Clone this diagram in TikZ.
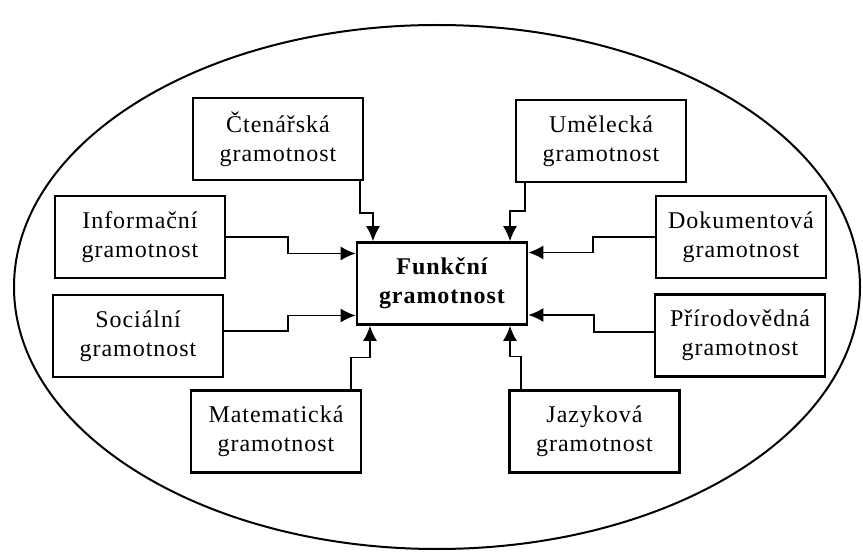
\documentclass[tikz,border=0pt]{standalone}
\usepackage{fontspec}
\setmainfont{Liberation Serif}[LetterSpace=4]
\usetikzlibrary{arrows.meta}

\tikzset{
  gbox/.style={draw, line width=2.2pt, minimum width=170pt, minimum height=82pt,
    align=center, inner sep=2pt, font=\fontsize{24}{29}\selectfont},
  centrebox/.style={gbox, line width=2.6pt, font=\fontsize{24}{29}\selectfont\bfseries},
  conn/.style={line width=1.7pt, -{Latex[length=15pt,width=14pt]}}
}

\begin{document}
\begin{tikzpicture}[x=1pt,y=-1pt]
\useasboundingbox (0,0) rectangle (863,556);
\draw[line width=2pt] (437,287) ellipse [x radius=423, y radius=262];

\node[centrebox] (funk) at (442,283.5) {Funkční\\gramotnost};

\node[gbox] (cten) at (278,139) {Čtenářská\\gramotnost};
\node[gbox] (umel) at (601,141) {Umělecká\\gramotnost};
\node[gbox] (info) at (140,237) {Informační\\gramotnost};
\node[gbox] (soc) at (138,336) {Sociální\\gramotnost};
\node[gbox] (dok) at (741,237) {Dokumentová\\gramotnost};
\node[gbox] (prir) at (740,335.5) {Přírodovědná\\gramotnost};
\node[gbox] (mat) at (276,431.5) {Matematická\\gramotnost};
\node[gbox] (jaz) at (594.5,431.5) {Jazyková\\gramotnost};

% stepped connectors into the centre box
\draw[conn] ([xshift=82pt]cten.south) -- ++(0,32) -| ([xshift=-69pt]funk.north);
\draw[conn] ([xshift=-76pt]umel.south) -- ++(0,28) -| ([xshift=68pt]funk.north);
\draw[conn] (info.east) -- ++(62,0) |- ([yshift=30pt]funk.west);
\draw[conn] ([yshift=5pt]soc.east) -- ++(64,0) |- ([yshift=-32pt]funk.west);
\draw[conn] (dok.west) -- ++(-62,0) |- ([yshift=31pt]funk.east);
\draw[conn] ([yshift=3.5pt]prir.west) -- ++(-60,0) |- ([yshift=-31.5pt]funk.east);
\draw[conn] ([xshift=75pt]mat.north) -- ++(0,-32) -| ([xshift=-72pt]funk.south);
\draw[conn] ([xshift=-73.5pt]jaz.north) -- ++(0,-33) -| ([xshift=68pt]funk.south);
\end{tikzpicture}
\end{document}
